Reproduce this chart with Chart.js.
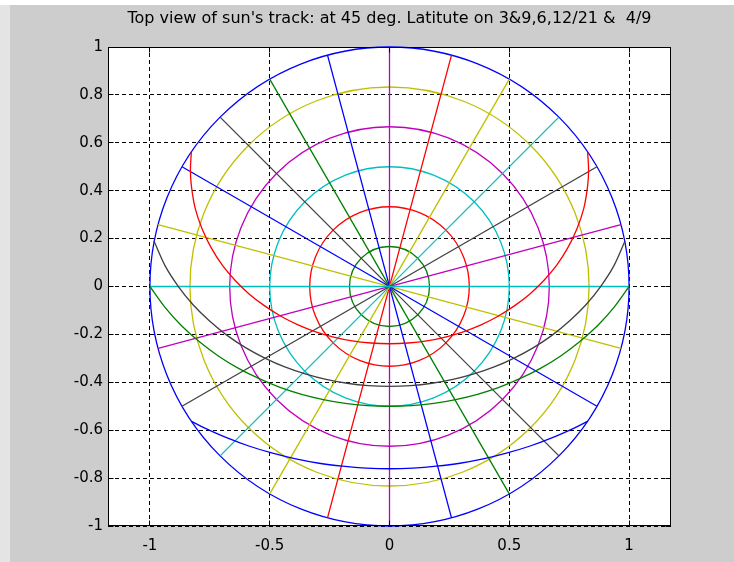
<!DOCTYPE html>
<html>
<head>
<meta charset="utf-8">
<script src="https://cdn.jsdelivr.net/npm/chart.js@4.4.1/dist/chart.umd.min.js"></script>
<style>
  html, body { margin: 0; padding: 0; background: #ffffff; }
  canvas { display: block; }
</style>
</head>
<body>
<canvas id="chart" width="734" height="562"></canvas>
<script>
const TITLE = "Top view of sun's track: at 45 deg. Latitute on 3&9,6,12/21 &  4/9";

const X_TICKS = [-1, -0.5, 0, 0.5, 1];
const Y_TICKS = [-1, -0.8, -0.6, -0.4, -0.2, 0, 0.2, 0.4, 0.6, 0.8, 1];
const X_LIMITS = [-1.175, 1.175];
const Y_LIMITS = [-1, 1];

// Altitude rings: 0, 15, 30, 45, 60, 75 degrees of solar altitude
const RING_RADII = [1, 0.833, 0.667, 0.5, 0.333, 0.167];
const RING_COLORS = ['#0000ff', '#bfbf00', '#bf00bf', '#00bfbf', '#ff0000', '#008000'];

// Azimuth spokes every 15 degrees (each drawn as a full diameter)
const SPOKE_ANGLES = [0, 15, 30, 45, 60, 75, 90, 105, 120, 135, 150, 165];
const SPOKE_COLORS = ['#00bfbf', '#bf00bf', '#404040', '#00bfbf', '#bfbf00', '#ff0000',
                      '#bf00bf', '#0000ff', '#008000', '#404040', '#0000ff', '#bfbf00'];

// Sun track, June 21
const JUN_X = [-0.827, -0.831, -0.827, -0.811, -0.782, -0.744, -0.698, -0.644, -0.585, -0.521, -0.453,
               -0.382, -0.308, -0.233, -0.156, -0.078, 0, 0.078, 0.156, 0.233, 0.308, 0.382, 0.453,
               0.521, 0.585, 0.644, 0.698, 0.744, 0.782, 0.811, 0.827, 0.831, 0.827];
const JUN_Y = [0.563, 0.485, 0.420, 0.326, 0.240, 0.161, 0.089, 0.025, -0.032, -0.081, -0.124,
               -0.160, -0.189, -0.211, -0.227, -0.236, -0.239, -0.236, -0.227, -0.211, -0.189, -0.160, -0.124,
               -0.081, -0.032, 0.025, 0.089, 0.161, 0.240, 0.326, 0.420, 0.485, 0.563];

// Sun track, December 21
const DEC_X = [-0.827, -0.773, -0.680, -0.584, -0.488, -0.391, -0.294, -0.196, -0.098, 0,
               0.098, 0.196, 0.294, 0.391, 0.488, 0.584, 0.680, 0.773, 0.827];
const DEC_Y = [-0.563, -0.590, -0.631, -0.667, -0.696, -0.720, -0.738, -0.750, -0.758, -0.761,
               -0.758, -0.750, -0.738, -0.720, -0.696, -0.667, -0.631, -0.590, -0.563];

// Sun track, March 21 & September 21
const EQX_X = [-1, -0.937, -0.868, -0.792, -0.713, -0.630, -0.544, -0.457, -0.367, -0.276, -0.185, -0.093, 0,
               0.093, 0.185, 0.276, 0.367, 0.457, 0.544, 0.630, 0.713, 0.792, 0.868, 0.937, 1];
const EQX_Y = [0, -0.087, -0.164, -0.232, -0.291, -0.342, -0.385, -0.421, -0.450, -0.472, -0.488, -0.497, -0.500,
               -0.497, -0.488, -0.472, -0.450, -0.421, -0.385, -0.342, -0.291, -0.232, -0.164, -0.087, 0];

// Sun track, April 9
const APR_X = [-0.983, -0.937, -0.882, -0.820, -0.751, -0.678, -0.601, -0.520, -0.437, -0.352, -0.265, -0.177, -0.089, 0,
               0.089, 0.177, 0.265, 0.352, 0.437, 0.520, 0.601, 0.678, 0.751, 0.820, 0.882, 0.937, 0.983];
const APR_Y = [0.19, 0.087, 0.001, -0.076, -0.144, -0.204, -0.255, -0.299, -0.336, -0.365, -0.388, -0.404, -0.414, -0.417,
               -0.414, -0.404, -0.388, -0.365, -0.336, -0.299, -0.255, -0.204, -0.144, -0.076, 0.001, 0.087, 0.19];

const FONT = '"DejaVu Sans", "Liberation Sans", Arial, sans-serif';

function pts(xs, ys) { return xs.map((x, i) => ({ x: x, y: ys[i] })); }

function track(xs, ys, color) {
  return { data: pts(xs, ys), borderColor: color, borderWidth: 1.3, showLine: true,
           pointRadius: 0, tension: 0.3, fill: false };
}

const datasets = [
  track(JUN_X, JUN_Y, '#ff0000'),
  track(DEC_X, DEC_Y, '#0000ff'),
  track(EQX_X, EQX_Y, '#008000'),
  track(APR_X, APR_Y, '#404040')
];

SPOKE_ANGLES.forEach((deg, i) => {
  const a = deg * Math.PI / 180;
  const c = Math.cos(a), s = Math.sin(a);
  datasets.push({ data: [{ x: c, y: s }, { x: -c, y: -s }], borderColor: SPOKE_COLORS[i],
                  borderWidth: 1.3, showLine: true, pointRadius: 0, tension: 0 });
});

// snap a scale pixel onto the centre of a device pixel
function snap(p) { return Math.floor(p) + 0.5; }

// Figure background, plot area, dashed grid and altitude rings
const backdrop = {
  id: 'backdrop',
  beforeDraw(chart) {
    const { ctx, chartArea: a, width, height } = chart;
    ctx.save();
    ctx.fillStyle = '#ffffff';
    ctx.fillRect(0, 0, width, height);
    ctx.fillStyle = '#e4e4e4';
    ctx.fillRect(0, 5, 10, height - 5);
    ctx.fillStyle = '#cdcdcd';
    ctx.fillRect(10, 5, width - 10, height - 5);
    ctx.fillStyle = '#ffffff';
    ctx.fillRect(a.left, a.top, a.right - a.left, a.bottom - a.top);
    ctx.restore();
  },
  beforeDatasetsDraw(chart) {
    const { ctx, chartArea: a, scales } = chart;
    const xs = scales.x, ys = scales.y;
    ctx.save();
    ctx.strokeStyle = '#000000';
    ctx.lineWidth = 1;
    ctx.setLineDash([4, 3]);
    xs.ticks.forEach(t => {
      const px = snap(xs.getPixelForValue(t.value));
      ctx.beginPath(); ctx.moveTo(px, a.bottom); ctx.lineTo(px, a.top); ctx.stroke();
    });
    ys.ticks.forEach(t => {
      const py = snap(ys.getPixelForValue(t.value));
      ctx.beginPath(); ctx.moveTo(a.left, py); ctx.lineTo(a.right, py); ctx.stroke();
    });
    ctx.setLineDash([]);
    const cx = xs.getPixelForValue(0), cy = ys.getPixelForValue(0);
    ctx.lineWidth = 1.3;
    RING_RADII.forEach((r, i) => {
      const rx = Math.abs(xs.getPixelForValue(r) - cx);
      const ry = Math.abs(ys.getPixelForValue(r) - cy);
      ctx.strokeStyle = RING_COLORS[i];
      ctx.beginPath(); ctx.ellipse(cx, cy, rx, ry, 0, 0, Math.PI * 2); ctx.stroke();
    });
    ctx.restore();
  },
  afterDatasetsDraw(chart) {
    const { ctx, chartArea: a, scales } = chart;
    const L = Math.round(a.left) + 0.5, R = Math.round(a.right) - 0.5;
    const T = Math.round(a.top) + 0.5, B = Math.round(a.bottom) - 0.5;
    ctx.save();
    ctx.strokeStyle = '#000000';
    ctx.lineWidth = 1;
    ctx.strokeRect(L, T, R - L, B - T);
    const tl = 5;
    ctx.beginPath();
    scales.x.ticks.forEach(t => {
      const px = snap(scales.x.getPixelForValue(t.value));
      ctx.moveTo(px, B); ctx.lineTo(px, B - tl);
      ctx.moveTo(px, T); ctx.lineTo(px, T + tl);
    });
    scales.y.ticks.forEach(t => {
      const py = snap(scales.y.getPixelForValue(t.value));
      ctx.moveTo(L, py); ctx.lineTo(L + tl, py);
      ctx.moveTo(R, py); ctx.lineTo(R - tl, py);
    });
    ctx.stroke();
    // title centred over the axes
    ctx.fillStyle = '#000000';
    ctx.font = '16px ' + FONT;
    ctx.textAlign = 'center';
    ctx.textBaseline = 'middle';
    ctx.fillText(TITLE, (a.left + a.right) / 2, 19);
    ctx.restore();
  }
};

new Chart(document.getElementById('chart'), {
  type: 'scatter',
  data: { datasets: datasets },
  options: {
    responsive: false,
    animation: false,
    events: [],
    layout: { padding: { left: 0, top: 47, right: 63, bottom: 0 } },
    plugins: { legend: { display: false }, tooltip: { enabled: false }, title: { display: false } },
    scales: {
      x: {
        type: 'linear', min: X_LIMITS[0], max: X_LIMITS[1],
        afterBuildTicks: s => { s.ticks = X_TICKS.map(v => ({ value: v })); },
        afterFit: s => { s.height = 36; },
        grid: { display: false, drawTicks: false },
        border: { display: false },
        ticks: { color: '#000000', padding: 11, maxRotation: 0, autoSkip: false,
                 font: { family: FONT, size: 15 }, callback: v => String(v) }
      },
      y: {
        type: 'linear', min: Y_LIMITS[0], max: Y_LIMITS[1],
        afterBuildTicks: s => { s.ticks = Y_TICKS.map(v => ({ value: v })); },
        afterFit: s => { s.width = 108; },
        grid: { display: false, drawTicks: false },
        border: { display: false },
        ticks: { color: '#000000', padding: 5, autoSkip: false,
                 font: { family: FONT, size: 15 }, callback: v => String(v) }
      }
    }
  },
  plugins: [backdrop]
});
</script>
</body>
</html>
